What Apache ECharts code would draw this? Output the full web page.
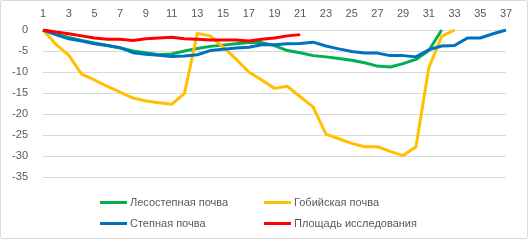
<!DOCTYPE html>
<html>
<head>
<meta charset="utf-8">
<script src="https://cdn.jsdelivr.net/npm/echarts@6/dist/echarts.min.js"></script>
<style>
  html, body { margin: 0; padding: 0; background: #fff; }
  #chart { width: 529px; height: 240px; }
</style>
</head>
<body>
<div id="chart"></div>
<script>
// day numbers along the top axis
const days = [1, 2, 3, 4, 5, 6, 7, 8, 9, 10, 11, 12, 13, 14, 15, 16, 17, 18, 19,
  20, 21, 22, 23, 24, 25, 26, 27, 28, 29, 30, 31, 32, 33, 34, 35, 36, 37]

const forestSteppe = [0, -1.0, -1.8, -2.5, -3.1, -3.7, -4.3, -5.0, -5.4, -5.9, -5.7,
  -5.0, -4.4, -3.9, -3.6, -3.3, -3.0, -3.0, -3.7, -4.9, -5.4, -6.1, -6.4, -6.8,
  -7.2, -7.8, -8.6, -8.8, -8.0, -7.0, -4.9, 0]

const gobi = [0, -3.4, -6.0, -10.5, -11.9, -13.4, -14.8, -16.2, -16.9, -17.3, -17.7,
  -15.1, -0.8, -1.4, -4.1, -6.9, -10.0, -11.9, -13.9, -13.4, -15.9, -18.3, -24.8,
  -25.9, -27.0, -27.8, -27.8, -28.9, -29.9, -27.8, -9.0, -1.5, 0]

const steppe = [0, -1.1, -2.1, -2.6, -3.3, -3.7, -4.2, -5.4, -5.8, -6.0, -6.3, -6.2,
  -5.9, -4.9, -4.6, -4.3, -4.1, -3.5, -3.5, -3.3, -3.2, -2.9, -3.8, -4.5, -5.1,
  -5.5, -5.5, -6.1, -6.1, -6.4, -4.7, -3.8, -3.7, -1.9, -1.9, -0.9, 0]

const studyArea = [0, -0.5, -0.9, -1.4, -1.9, -2.2, -2.2, -2.5, -2.1, -1.9, -1.7,
  -2.1, -2.2, -2.4, -2.4, -2.4, -2.6, -2.2, -1.9, -1.4, -1.1]

const seriesNames = ['Лесостепная почва', 'Гобийская почва', 'Степная почва', 'Площадь исследования']
const seriesColors = ['#00B050', '#FFC000', '#0070C0', '#FF0000']
const seriesData = [forestSteppe, gobi, steppe, studyArea]

const FONT = 'Liberation Sans, Arial, sans-serif'
const labelColor = '#595959'

const chart = echarts.init(document.getElementById('chart'))

// two vertical legend columns, so the names line up like the original
function legendBlock(names, left) {
  return {
    orient: 'vertical',
    left: left,
    top: 197,
    data: names,
    icon: 'rect',
    itemWidth: 27,
    itemHeight: 3,
    itemGap: 10,
    padding: 0,
    textStyle: { fontFamily: FONT, fontSize: 11, color: labelColor, padding: [0, 0, 0, -2] }
  }
}

chart.setOption({
  animation: false,
  graphic: [{
    type: 'rect',
    shape: { x: 0.5, y: 0.5, width: 527, height: 238, r: 2 },
    style: { fill: 'none', stroke: '#D9D9D9', lineWidth: 1 },
    silent: true
  }],
  grid: { left: 43, right: 23, top: 30, bottom: 63 },
  legend: [
    legendBlock([seriesNames[0], seriesNames[2]], 100),
    legendBlock([seriesNames[1], seriesNames[3]], 264)
  ],
  xAxis: {
    type: 'category',
    position: 'top',
    boundaryGap: false,
    data: days,
    axisLine: { show: false },
    axisTick: { show: false },
    axisLabel: { interval: 1, margin: 11, fontFamily: FONT, fontSize: 11, color: labelColor }
  },
  yAxis: {
    type: 'value',
    min: -35,
    max: 0,
    interval: 5,
    axisLine: { show: false },
    axisTick: { show: false },
    axisLabel: { margin: 15, fontFamily: FONT, fontSize: 11, color: labelColor },
    splitLine: { lineStyle: { color: '#D9D9D9', width: 1 } }
  },
  series: seriesNames.map((name, i) => ({
    name,
    type: 'line',
    data: seriesData[i],
    showSymbol: false,
    color: seriesColors[i],
    lineStyle: { width: 3, color: seriesColors[i], join: 'round' }
  }))
})
</script>
</body>
</html>
